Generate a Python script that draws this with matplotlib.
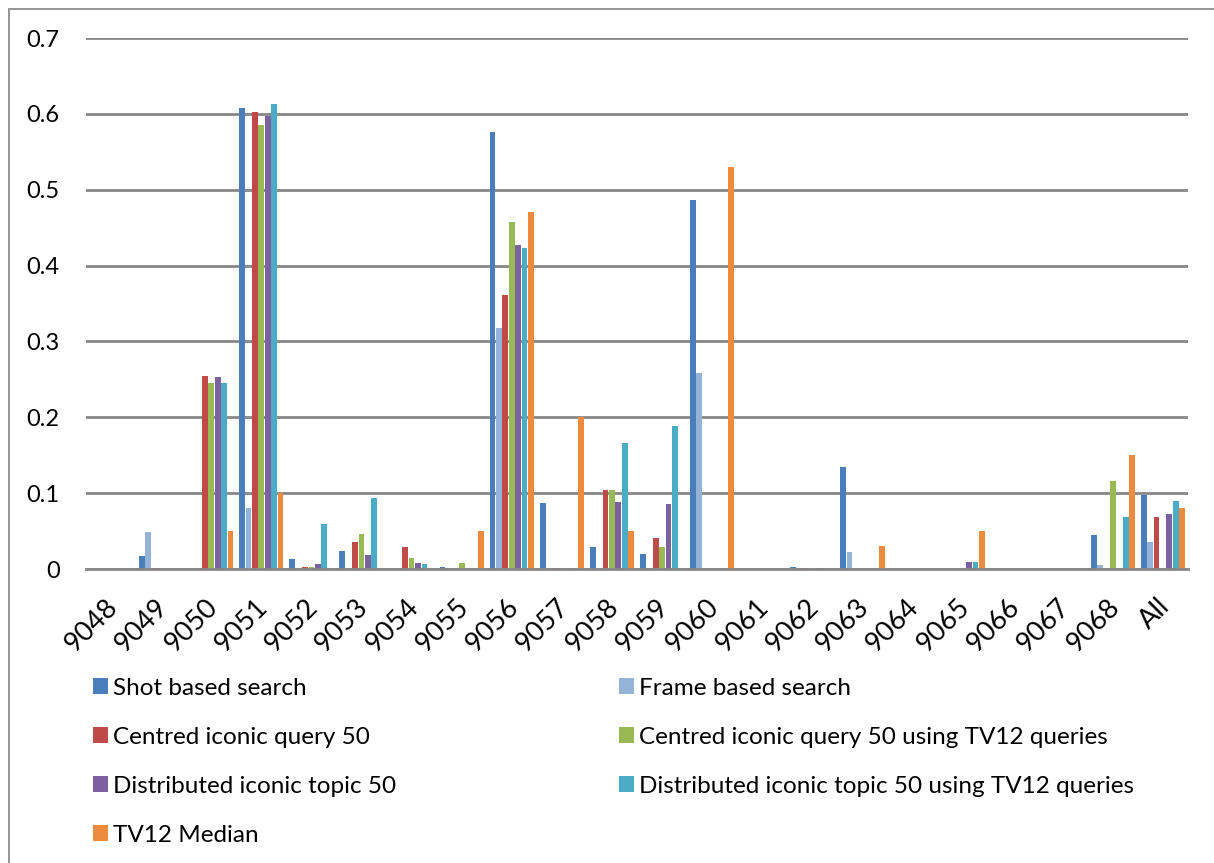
import matplotlib
matplotlib.use("Agg")
import matplotlib.pyplot as plt
import matplotlib.transforms as mtransforms
import numpy as np
from matplotlib.patches import Rectangle, Patch

plt.rcParams['font.family'] = ['Lato', 'DejaVu Sans']

topics = ["9048", "9049", "9050", "9051", "9052", "9053", "9054", "9055", "9056",
          "9057", "9058", "9059", "9060", "9061", "9062", "9063", "9064", "9065",
          "9066", "9067", "9068", "All"]

shot_based = [0, 0.017, 0, 0.608, 0.013, 0.024, 0.001, 0.002, 0.576, 0.087, 0.029,
              0.020, 0.487, 0, 0.002, 0.134, 0, 0, 0, 0, 0.045, 0.097]
frame_based = [0, 0.049, 0, 0.081, 0, 0, 0.001, 0, 0.318, 0, 0.001,
               0, 0.259, 0, 0, 0.022, 0, 0, 0, 0, 0.005, 0.035]
centred_iconic = [0, 0.001, 0.254, 0.602, 0.002, 0.036, 0.029, 0, 0.361, 0.001, 0.104,
                  0.041, 0, 0, 0.001, 0, 0, 0, 0, 0, 0, 0.069]
centred_iconic_tv12 = [0, 0, 0.245, 0.585, 0.003, 0.046, 0.015, 0.008, 0.457, 0.001, 0.104,
                       0.029, 0, 0, 0.001, 0, 0, 0.001, 0, 0, 0.116, 0]
distributed_iconic = [0, 0, 0.253, 0.597, 0.006, 0.019, 0.008, 0, 0.427, 0.001, 0.088,
                      0.086, 0, 0, 0.001, 0, 0, 0.009, 0, 0, 0, 0.072]
distributed_iconic_tv12 = [0, 0, 0.245, 0.613, 0.059, 0.093, 0.007, 0, 0.423, 0.001, 0.166,
                           0.188, 0, 0, 0.001, 0, 0, 0.009, 0, 0, 0.069, 0.089]
tv12_median = [0, 0, 0.05, 0.10, 0, 0, 0, 0.05, 0.47, 0.20, 0.05,
               0, 0.53, 0, 0, 0.03, 0, 0.05, 0, 0, 0.15, 0.08]

series_names = ["Shot based search", "Frame based search", "Centred iconic query 50",
                "Centred iconic query 50 using TV12 queries", "Distributed iconic topic 50",
                "Distributed iconic topic 50 using TV12 queries", "TV12 Median"]
series_values = [shot_based, frame_based, centred_iconic, centred_iconic_tv12,
                 distributed_iconic, distributed_iconic_tv12, tv12_median]
colors = ["#4A7EBB", "#95B3D7", "#BE4B48", "#98B954", "#7D60A0", "#4BACC6", "#EC8A3E"]

W, H = 1214, 863
fig = plt.figure(figsize=(W / 100, H / 100), dpi=100)
ax = fig.add_axes([86 / W, 1 - 569 / H, (1188 - 86) / W, (569 - 38) / H])

n = len(series_values)
x = np.arange(len(topics))
bw = 0.128
for i, (vals, c) in enumerate(zip(series_values, colors)):
    ax.bar(x + (i - (n - 1) / 2) * bw, vals, width=bw * 0.9, color=c,
           linewidth=0, zorder=3)

ax.set_xlim(-0.5, len(topics) - 0.5)
ax.set_ylim(0, 0.7)
ax.set_yticks(np.arange(0, 0.71, 0.1))
ax.set_yticklabels(["0", "0.1", "0.2", "0.3", "0.4", "0.5", "0.6", "0.7"], fontsize=17)
ax.yaxis.grid(True, color="#878787", linewidth=2, zorder=0)
ax.set_axisbelow(True)
for s in ["top", "right", "left"]:
    ax.spines[s].set_visible(False)
ax.spines["bottom"].set_color("#878787")
ax.spines["bottom"].set_linewidth(2)
ax.spines["bottom"].set_zorder(4)
ax.tick_params(axis="y", length=0, pad=19)
ax.tick_params(axis="x", length=0, pad=18)
ax.set_xticks(x)
ax.set_xticklabels(topics, rotation=45, ha="right", rotation_mode="anchor",
                   fontsize=19.5)
shift = mtransforms.ScaledTranslation(-0.06, 0, fig.dpi_scale_trans)
for lbl in ax.get_xticklabels():
    lbl.set_transform(lbl.get_transform() + shift)

# chart frame
fig.patches.append(Rectangle((9 / W, -0.1), 1.2, 1 - 9 / H + 0.1, transform=fig.transFigure,
                             fill=False, edgecolor="#8C8C8C", linewidth=1.3))

# legend filled row by row in two columns
handles = [Patch(facecolor=c, edgecolor="none") for c in colors]
order = [0, 2, 4, 6, 1, 3, 5]
leg = fig.legend([handles[k] for k in order], [series_names[k] for k in order],
                 loc="upper left", ncol=2,
                 bbox_to_anchor=(83 / W, 1 - 668 / H), frameon=False, fontsize=17.5,
                 handlelength=0.62, handleheight=0.62, handletextpad=0.2,
                 columnspacing=9.18, labelspacing=1.15, borderaxespad=0)

fig.savefig("out.png", dpi=100, facecolor="white")
